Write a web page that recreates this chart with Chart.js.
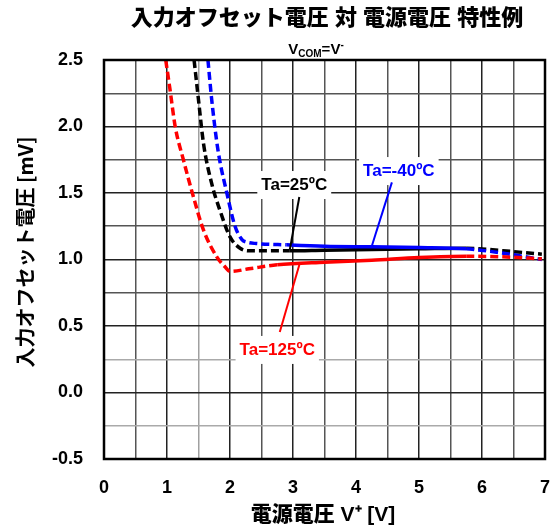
<!DOCTYPE html>
<html><head><meta charset="utf-8">
<script src="https://cdn.jsdelivr.net/npm/chart.js@4"></script>
<style>html,body{margin:0;padding:0;background:#fff}canvas{display:block}</style>
</head><body>
<canvas id="c" width="556" height="530"></canvas>
<script>
// ---- data ----
const blueX  = [1.65, 1.71, 1.81, 1.95, 2.08, 2.19, 2.27, 2.42, 2.9, 3.5, 4.25, 5.0, 5.75, 6.3, 6.95];
const blueY  = [2.5, 2.2, 1.82, 1.5, 1.25, 1.15, 1.13, 1.12, 1.11, 1.10, 1.095, 1.09, 1.08, 1.05, 1.0];
const blackX = [1.43, 1.50, 1.58, 1.71, 1.84, 2.0, 2.16, 2.32, 2.95, 3.5, 4.25, 5.0, 5.75, 6.33, 6.95];
const blackY = [2.5, 2.2, 1.87, 1.57, 1.37, 1.17, 1.085, 1.065, 1.065, 1.07, 1.075, 1.08, 1.085, 1.066, 1.04];
const redX   = [0.98, 1.05, 1.13, 1.26, 1.42, 1.58, 1.79, 1.92, 2.0, 2.3, 2.75, 3.5, 4.25, 5.0, 5.75, 6.33, 6.95];
const redY   = [2.5, 2.27, 2.0, 1.75, 1.47, 1.22, 1.02, 0.945, 0.91, 0.93, 0.96, 0.98, 0.995, 1.015, 1.025, 1.02, 1.005];
const seriesNames = ["Ta=-40ºC", "Ta=25ºC", "Ta=125ºC"];
const solidRanges = { blue: [2.9, 5.75], black: [2.95, 5.75], red: [2.75, 5.75] };
const xTickLabels = ["0","1","2","3","4","5","6","7"];
const yTickLabels = ["-0.5","0.0","0.5","1.0","1.5","2.0","2.5"];
const titleText = "入力オフセット電圧 対 電源電圧 特性例";
const xTitle = "電源電圧 V⁺ [V]";
const yTitle = "入力オフセット電圧 [mV]";
// annotation label positions (data units): [text, color, labelX, labelY, fromX, fromY, toX, toY]
const notes = [
  ["Ta=25ºC", "#000000", 3.02, 1.56, 3.10, 1.47, 2.95, 1.075],
  ["Ta=-40ºC", "#0000ff", 4.68, 1.665, 4.57, 1.58, 4.25, 1.10],
  ["Ta=125ºC", "#ff0000", 2.75, 0.32, 2.79, 0.455, 3.11, 0.975]
];

const pts = (xs, ys) => xs.map((x, i) => ({x, y: ys[i]}));
const dashSeg = (range) => ({
  borderDash: ctx => (ctx.p1.parsed.x <= range[0] + 1e-9 || ctx.p0.parsed.x >= range[1] - 1e-9) ? [8, 4] : undefined
});
const BOLD = "'Liberation Sans','Noto Sans CJK JP',Arial,sans-serif";

const decor = {
  id: 'decor',
  beforeDatasetsDraw(chart) {
    const {ctx, scales: {x, y}} = chart;
    ctx.save();
    ctx.font = "bold 17px " + BOLD;
    notes.forEach(n => {
      const w = ctx.measureText(n[0]).width;
      const cx = x.getPixelForValue(n[2]), cy = y.getPixelForValue(n[3]);
      ctx.fillStyle = '#fff';
      ctx.fillRect(cx - w / 2 - 4, cy - 14, w + 8, 28);
    });
    ctx.restore();
  },
  afterDatasetsDraw(chart) {
    const {ctx, chartArea: a, scales: {x, y}} = chart;
    ctx.save();
    notes.forEach(n => {
      ctx.strokeStyle = n[1];
      ctx.lineWidth = 2;
      ctx.beginPath();
      ctx.moveTo(x.getPixelForValue(n[4]), y.getPixelForValue(n[5]));
      ctx.lineTo(x.getPixelForValue(n[6]), y.getPixelForValue(n[7]));
      ctx.stroke();
      ctx.fillStyle = n[1];
      ctx.font = "bold 17px " + BOLD;
      ctx.textAlign = 'center';
      ctx.textBaseline = 'middle';
      ctx.fillText(n[0], x.getPixelForValue(n[2]), y.getPixelForValue(n[3]));
    });
    ctx.strokeStyle = '#000';
    ctx.lineWidth = 2.5;
    ctx.strokeRect(a.left, a.top, a.right - a.left, a.bottom - a.top);
    ctx.fillStyle = '#000';
    ctx.textAlign = 'center';
    ctx.textBaseline = 'middle';
    ctx.font = "900 22px " + BOLD;
    ctx.fillText(titleText, 327, 19);
    ctx.textAlign = 'left';
    ctx.textBaseline = 'alphabetic';
    const parts = [["V", 15, 0], ["COM", 10, 3], ["=V", 15, 0], ["-", 10, -6]];
    let tw = 0;
    parts.forEach(p => { ctx.font = "bold " + p[1] + "px " + BOLD; tw += ctx.measureText(p[0]).width; });
    let sx = 316 - tw / 2;
    parts.forEach(p => {
      ctx.font = "bold " + p[1] + "px " + BOLD;
      ctx.fillText(p[0], sx, 54 + p[2]);
      sx += ctx.measureText(p[0]).width;
    });
    ctx.textAlign = 'center';
    ctx.textBaseline = 'middle';
    ctx.font = "900 21px " + BOLD;
    ctx.fillText(xTitle, 323, 515);
    ctx.translate(25, 252);
    ctx.rotate(-Math.PI / 2);
    ctx.font = "bold 20px 'Noto Sans CJK JP','Liberation Sans',sans-serif";
    ctx.fillText(yTitle, 0, 0);
    ctx.restore();
  }
};

const gridColorX = v => {
  if (Math.abs(v - Math.round(v)) < 1e-6) return '#222';
  if (Math.abs(v - 1.5) < 1e-6) return '#a0a0a0';
  return '#555';
};
const gridColorY = v => {
  if (Math.abs(v * 2 - Math.round(v * 2)) < 1e-6) return '#222';
  if (Math.abs(Math.abs(v) - 0.25) < 1e-6) return '#aaa';
  return '#555';
};

new Chart(document.getElementById('c'), {
  type: 'line',
  data: {
    datasets: [
      { label: seriesNames[1], data: pts(blackX, blackY), borderColor: '#000', order: 3,
        segment: dashSeg(solidRanges.black) },
      { label: seriesNames[0], data: pts(blueX, blueY), borderColor: '#0000ff', order: 2,
        segment: dashSeg(solidRanges.blue) },
      { label: seriesNames[2], data: pts(redX, redY), borderColor: '#ff0000', order: 1,
        segment: dashSeg(solidRanges.red) }
    ].map(d => Object.assign(d, { borderWidth: 3.5, pointRadius: 0, fill: false, cubicInterpolationMode: 'monotone', borderCapStyle: 'butt' }))
  },
  options: {
    responsive: false, animation: false,
    layout: { padding: { top: 60, right: 11, left: 0, bottom: 0 } },
    plugins: { legend: { display: false }, tooltip: { enabled: false } },
    scales: {
      x: {
        type: 'linear', min: 0, max: 7,
        afterFit: s => { s.height = 71; s.paddingLeft = 0; s.paddingRight = 0; },
        border: { display: false },
        grid: { drawTicks: false, color: c => gridColorX(c.tick.value), lineWidth: 1.5 },
        ticks: { stepSize: 0.5, autoSkip: false, maxRotation: 0, padding: 18, color: '#000',
          font: { family: BOLD, size: 18, weight: 'bold' },
          callback: v => Number.isInteger(v) ? xTickLabels[v] : '' }
      },
      y: {
        type: 'linear', min: -0.5, max: 2.5,
        afterFit: s => { s.width = 104; s.paddingTop = 0; s.paddingBottom = 0; },
        border: { display: false },
        grid: { drawTicks: false, color: c => gridColorY(c.tick.value), lineWidth: 1.5 },
        ticks: { stepSize: 0.25, autoSkip: false, padding: 21, color: '#000',
          font: { family: BOLD, size: 18, weight: 'bold' },
          callback: v => { const k = Math.round((v + 0.5) * 2); return Math.abs(v * 2 - Math.round(v * 2)) < 1e-6 ? yTickLabels[k] : ''; } }
      }
    }
  },
  plugins: [decor]
});
</script>
</body></html>
